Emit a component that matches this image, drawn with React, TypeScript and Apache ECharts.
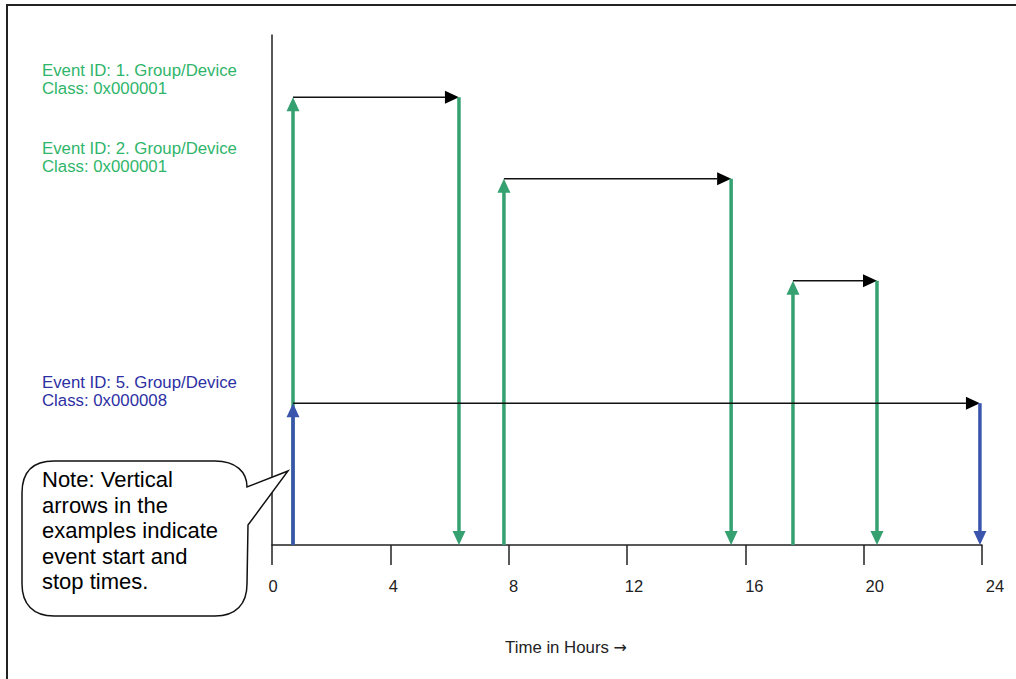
import React, { useEffect, useRef } from "react";
import * as echarts from "echarts";

// ---- data ----
const hourTicks = [0, 4, 8, 12, 16, 20, 24];
const eventIds = [1, 2, 3, 5];
const startHours = [0.71, 7.84, 17.61, 0.71];
const stopHours = [6.32, 15.52, 20.45, 23.93];
const eventLevels = [87.8, 71.8, 51.8, 27.8];
const eventClasses = ["0x000001", "0x000001", "0x000001", "0x000008"];
const labelledEvents = [1, 2, 5];
const xAxisTitle = "Time in Hours";
const noteText = "Note: Vertical\narrows in the\nexamples indicate\nevent start and\nstop times.";

const GREEN = "#35a070";
const BLUE = "#3b55ad";
const GREEN_TEXT = "#2fb56a";
const BLUE_TEXT = "#2d2fa3";
const FONT = "'Liberation Sans', Arial, Helvetica, sans-serif";

const calloutPath =
  "M 54 461 L 215 461 C 236 461 247 472 247 487 L 288 471 L 248 525 L 247 584 C 247 604 236 616 215 616 L 54 616 C 33 616 22 604 22 584 L 22 493 C 22 472 33 461 54 461 Z";

const labelTops: Record<number, number> = { 1: 61, 2: 139, 5: 373 };

export default function App() {
  const ref = useRef<HTMLDivElement>(null);
  useEffect(() => {
    if (!ref.current) return;
    try {
      echarts.graphic.registerShape("callout", echarts.graphic.extendPath(calloutPath, {}));
    } catch (e) {}
    const chart = echarts.init(ref.current, null, { renderer: "svg" });

    const data = eventIds.map((id, i) => [
      startHours[i],
      stopHours[i],
      eventLevels[i],
      eventClasses[i] === "0x000008" ? 1 : 0,
    ]);
    // draw blue (class 8) last so it sits on top
    const ordered = data.slice().sort((a, b) => a[3] - b[3]);

    const L = 14;
    const W = 6.5;

    const renderItem = (params: any, api: any) => {
      const s = api.value(0);
      const e = api.value(1);
      const h = api.value(2);
      const color = api.value(3) === 1 ? BLUE : GREEN;
      const p0 = api.coord([s, 0]);
      const pt = api.coord([s, h]);
      const pe = api.coord([e, h]);
      const pe0 = api.coord([e, 0]);
      return {
        type: "group",
        children: [
          {
            type: "line",
            shape: { x1: pt[0], y1: pt[1], x2: pe[0] - L, y2: pe[1] },
            style: { stroke: "#111", lineWidth: 1.6 },
          },
          {
            type: "polygon",
            shape: { points: [[pe[0], pe[1]], [pe[0] - L, pe[1] - W], [pe[0] - L, pe[1] + W]] },
            style: { fill: "#000" },
          },
          {
            type: "line",
            shape: { x1: p0[0], y1: p0[1], x2: pt[0], y2: pt[1] + L - 1 },
            style: { stroke: color, lineWidth: 3.5 },
          },
          {
            type: "polygon",
            shape: { points: [[pt[0], pt[1]], [pt[0] - W, pt[1] + L], [pt[0] + W, pt[1] + L]] },
            style: { fill: color },
          },
          {
            type: "line",
            shape: { x1: pe[0], y1: pe[1], x2: pe0[0], y2: pe0[1] - L + 1 },
            style: { stroke: color, lineWidth: 3.5 },
          },
          {
            type: "polygon",
            shape: { points: [[pe0[0], pe0[1]], [pe0[0] - W, pe0[1] - L], [pe0[0] + W, pe0[1] - L]] },
            style: { fill: color },
          },
        ],
      };
    };

    const labelGraphics = labelledEvents.map((id) => {
      const i = eventIds.indexOf(id);
      const isBlue = eventClasses[i] === "0x000008";
      return {
        type: "text",
        left: 42,
        top: labelTops[id],
        style: {
          text: `Event ID: ${id}. Group/Device\nClass: ${eventClasses[i]}`,
          fill: isBlue ? BLUE_TEXT : GREEN_TEXT,
          font: `16.8px ${FONT}`,
          lineHeight: 18.5,
        },
      };
    });

    chart.setOption({
      animation: false,
      backgroundColor: "#fff",
      grid: [
        { left: 272, width: 710, top: 35, height: 510 },
        { left: 273, width: 722, top: 35, height: 510 },
      ],
      xAxis: [
        {
          type: "value",
          gridIndex: 0,
          min: 0,
          max: 24,
          interval: 4,
          axisLine: { show: true, lineStyle: { color: "#222", width: 1.5 } },
          axisTick: { show: true, length: 20, inside: false, lineStyle: { color: "#222", width: 1.5 } },
          axisLabel: { show: false },
          splitLine: { show: false },
        },
        {
          type: "value",
          gridIndex: 1,
          min: 0,
          max: 24,
          interval: 4,
          axisLine: { show: false },
          axisTick: { show: false },
          splitLine: { show: false },
          axisLabel: {
            show: true,
            margin: 32,
            color: "#222",
            fontSize: 16.5,
            fontFamily: FONT,
            customValues: hourTicks,
          },
        },
      ],
      yAxis: [
        {
          type: "value",
          gridIndex: 0,
          min: 0,
          max: 100,
          axisLine: { show: true, lineStyle: { color: "#222", width: 1.5 } },
          axisTick: { show: false },
          axisLabel: { show: false },
          splitLine: { show: false },
        },
        { type: "value", gridIndex: 1, min: 0, max: 100, show: false },
      ],
      series: [
        {
          type: "custom",
          xAxisIndex: 0,
          yAxisIndex: 0,
          renderItem,
          clip: false,
          encode: { x: [0, 1], y: 2 },
          data: ordered,
        },
      ],
      graphic: [
        {
          type: "rect",
          shape: { x: 7, y: 5, width: 1030, height: 700 },
          style: { fill: "none", stroke: "#222", lineWidth: 2 },
          silent: true,
        },
        ...labelGraphics,
        {
          type: "callout",
          x: 0,
          y: 0,
          style: { fill: "#fff", stroke: "#111", lineWidth: 1.5 },
          z: 10,
        },
        {
          type: "text",
          left: 42,
          top: 467,
          z: 11,
          style: {
            text: noteText,
            fill: "#000",
            font: `22px ${FONT}`,
            lineHeight: 25.5,
          },
        },
        {
          type: "text",
          x: 566,
          y: 647,
          style: {
            text: `{t|${xAxisTitle} }{a|\u2192}`,
            align: "center",
            verticalAlign: "middle",
            rich: {
              t: { fill: "#222", fontSize: 16.8, fontFamily: FONT },
              a: { fill: "#222", fontSize: 16, fontFamily: "'DejaVu Sans', sans-serif" },
            },
          },
        },
      ],
    });
    return () => chart.dispose();
  }, []);
  return (
    <div
      ref={ref}
      style={{ position: "absolute", left: 0, top: 0, width: 1016, height: 679 }}
    />
  );
}
